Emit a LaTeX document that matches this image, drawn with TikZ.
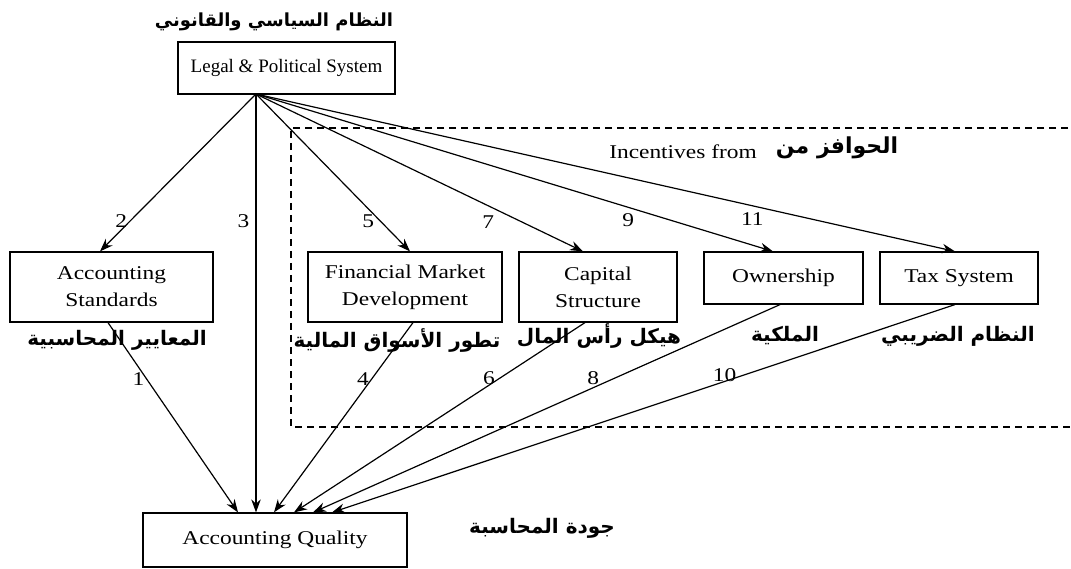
\documentclass[tikz,border=0pt]{standalone}
\usepackage{fontspec}
\setmainfont{Liberation Serif}[FakeStretch=1.2]
\newfontfamily\plainserif{Liberation Serif}
\newfontfamily\arabicfont[Script=Arabic]{DejaVu Sans}
\TeXXeTstate=1
\usetikzlibrary{arrows.meta}

\newcommand{\artext}[1]{{\arabicfont\bfseries\beginR #1\endR}}

\begin{document}
\begin{tikzpicture}[->,>={Stealth[length=13pt,width=9.5pt]},x=1pt,y=-1pt,
                    line width=1.2pt,font=\fontsize{19.5}{27}\selectfont]
  \tikzstyle{fbox}=[draw=black,fill=white,align=center,inner sep=0pt]
  \tikzstyle{alabel}=[font=\fontsize{20}{22}\selectfont,inner sep=0pt]
  \tikzstyle{num}=[inner sep=2pt]

  \useasboundingbox (0,0) rectangle (1071,569);

  % incentives frame, open on the right
  \draw[-,dash pattern=on 7pt off 5pt] (1080,128) -- (291,128) -- (291,427) -- (1080,427);

  \node[fbox,minimum width=217pt,minimum height=52pt,font=\plainserif\fontsize{19}{22}\selectfont] (legal) at (286.5,68) {Legal \& Political System};
  \node[fbox,minimum width=203pt,minimum height=70pt] (as)    at (111.5,287) {Accounting\\Standards};
  \node[fbox,minimum width=194pt,minimum height=70pt] (fmd)   at (405,287)   {Financial Market\\Development};
  \node[fbox,minimum width=158pt,minimum height=70pt] (cs)    at (598,287)   {Capital\\Structure};
  \node[fbox,minimum width=159pt,minimum height=52pt] (own)   at (783.5,278) {Ownership};
  \node[fbox,minimum width=158pt,minimum height=52pt] (tax)   at (959,278)   {Tax System};
  \node[fbox,minimum width=264pt,minimum height=54pt] (aq)    at (275,540)   {Accounting Quality};

  \node (inc) at (683,152) {Incentives from};

  \node[alabel,font=\fontsize{18}{20}\selectfont] (legalar) at (274,22) {\artext{النظام السياسي والقانوني}};
  \node[alabel] (asar)    at (117,340) {\artext{المعايير المحاسبية}};
  \node[alabel] (fmdar)   at (397,340) {\artext{تطور الأسواق المالية}};
  \node[alabel] (csar)    at (599,336) {\artext{هيكل رأس المال}};
  \node[alabel] (ownar)   at (785,336) {\artext{الملكية}};
  \node[alabel] (taxar)   at (958,336) {\artext{النظام الضريبي}};
  \node[alabel] (aqar)    at (542,528) {\artext{جودة المحاسبة}};
  \node[alabel,font=\fontsize{22}{24}\selectfont] (incar) at (837,148) {\artext{الحوافز من}};

  \coordinate (src) at (256,94);

  \path (src) edge node[num,pos=.81,left]      (n2)  {2}  ([xshift=-11.5pt]as.north)
              edge node[num,pos=.305,left=4pt] (n3)  {3}  ([xshift=-19pt]aq.north)
              edge node[num,pos=.81,left=4pt]  (n5)  {5}  ([xshift=5pt]fmd.north)
              edge node[num,pos=.71,below=7pt] (n7)  {7}  ([xshift=-15pt]cs.north)
              edge node[num,pos=.72,below=4pt] (n9)  {9}  ([xshift=-10.5pt]own.north)
              edge node[num,pos=.71,below=4pt] (n11) {11} ([xshift=-4pt]tax.north);

  \path ([xshift=-3.5pt]as.south)  edge node[num,pos=.3,left]       (n1)  {1}  ([xshift=-37pt]aq.north)
        ([xshift=8pt]fmd.south)    edge node[num,pos=.3,left]       (n4)  {4}  ([xshift=-1pt]aq.north)
        ([xshift=-13pt]cs.south)   edge node[num,pos=.33,above=-2pt] (n6)  {6}  ([xshift=19pt]aq.north)
        ([xshift=-3.5pt]own.south) edge node[num,pos=.4,above]      (n8)  {8}  ([xshift=38pt]aq.north)
        ([xshift=-4pt]tax.south)   edge node[num,pos=.37,above=-3pt] (n10) {10} ([xshift=57pt]aq.north);
\end{tikzpicture}
\end{document}
